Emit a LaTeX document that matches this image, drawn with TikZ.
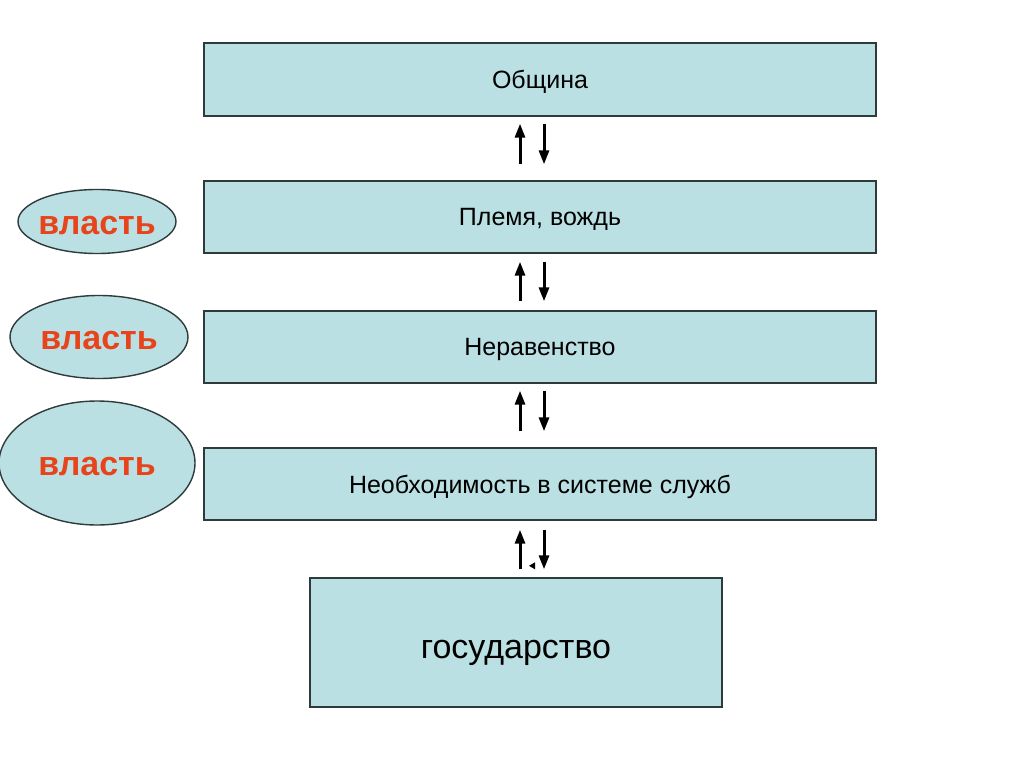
\documentclass[tikz,border=0pt]{standalone}
\usepackage{fontspec}
\setmainfont{Liberation Sans}
\usetikzlibrary{arrows.meta,shapes.geometric}
\definecolor{boxfill}{HTML}{BBE0E3}
\definecolor{boxline}{HTML}{2F3A3A}
\definecolor{powerred}{HTML}{E8441C}
\tikzset{
  stage/.style={draw=boxline, line width=1.4pt, fill=boxfill, inner sep=0pt, text depth=0pt, font=\fontsize{25}{30}\selectfont},
  power/.style={ellipse, draw=boxline, line width=1.4pt, fill=boxfill, inner sep=0pt, text height=25pt, text depth=0pt, text=powerred, font=\fontsize{34}{40}\selectfont\bfseries},
  link/.style={line width=3pt, -{Triangle[length=14pt,width=10pt]}}
}
\begin{document}
\begin{tikzpicture}[x=1pt,y=-1pt]
\useasboundingbox (0,0) rectangle (1024,767);
\fill[white] (0,0) rectangle (1024,767);
% boxes
\node[stage, minimum width=672pt, minimum height=73pt] (obs) at (540,79.5) {Община};
\node[stage, minimum width=672pt, minimum height=72pt] (ple) at (540,217) {Племя, вождь};
\node[stage, minimum width=672pt, minimum height=72pt] (ner) at (540,347) {Неравенство};
\node[stage, minimum width=672pt, minimum height=72pt] (neo) at (540,484) {Необходимость в системе служб};
\node[stage, minimum width=412pt, minimum height=129pt, text height=31pt, font=\fontsize{34}{40}\selectfont] (gos) at (516,642.5) {государство};
% ellipses
\node[power, inner xsep=-8pt, inner ysep=-6pt, minimum width=158pt, minimum height=64pt] (v1) at (97,221.5) {власть};
\node[power, minimum width=178pt, minimum height=83pt] (v2) at (99,337) {власть};
\node[power, minimum width=196pt, minimum height=124pt] (v3) at (97,463) {власть};
% arrows (canvas yshift: positive is up)
\draw[link] ([xshift=-20pt,yshift=16pt]ple.north) -- ([xshift=-20pt,yshift=-7pt]obs.south);
\draw[link] ([xshift=4pt,yshift=-7pt]obs.south) -- ([xshift=4pt,yshift=16pt]ple.north);
\draw[link] ([xshift=-20pt,yshift=9pt]ner.north) -- ([xshift=-20pt,yshift=-8pt]ple.south);
\draw[link] ([xshift=4pt,yshift=-8pt]ple.south) -- ([xshift=4pt,yshift=9pt]ner.north);
\draw[link] ([xshift=-20pt,yshift=16pt]neo.north) -- ([xshift=-20pt,yshift=-7pt]ner.south);
\draw[link] ([xshift=4pt,yshift=-7pt]ner.south) -- ([xshift=4pt,yshift=16pt]neo.north);
\draw[link] ([xshift=4pt,yshift=8pt]gos.north) -- ([xshift=-20pt,yshift=-9pt]neo.south);
\draw[link] ([xshift=4pt,yshift=-9pt]neo.south) -- ([xshift=28pt,yshift=8pt]gos.north);
\coordinate (tick) at ([xshift=19pt,yshift=15pt]gos.north);
\fill (tick) -- ++(-6,3.5) -- ++(6,3.5) -- cycle;
\end{tikzpicture}
\end{document}
